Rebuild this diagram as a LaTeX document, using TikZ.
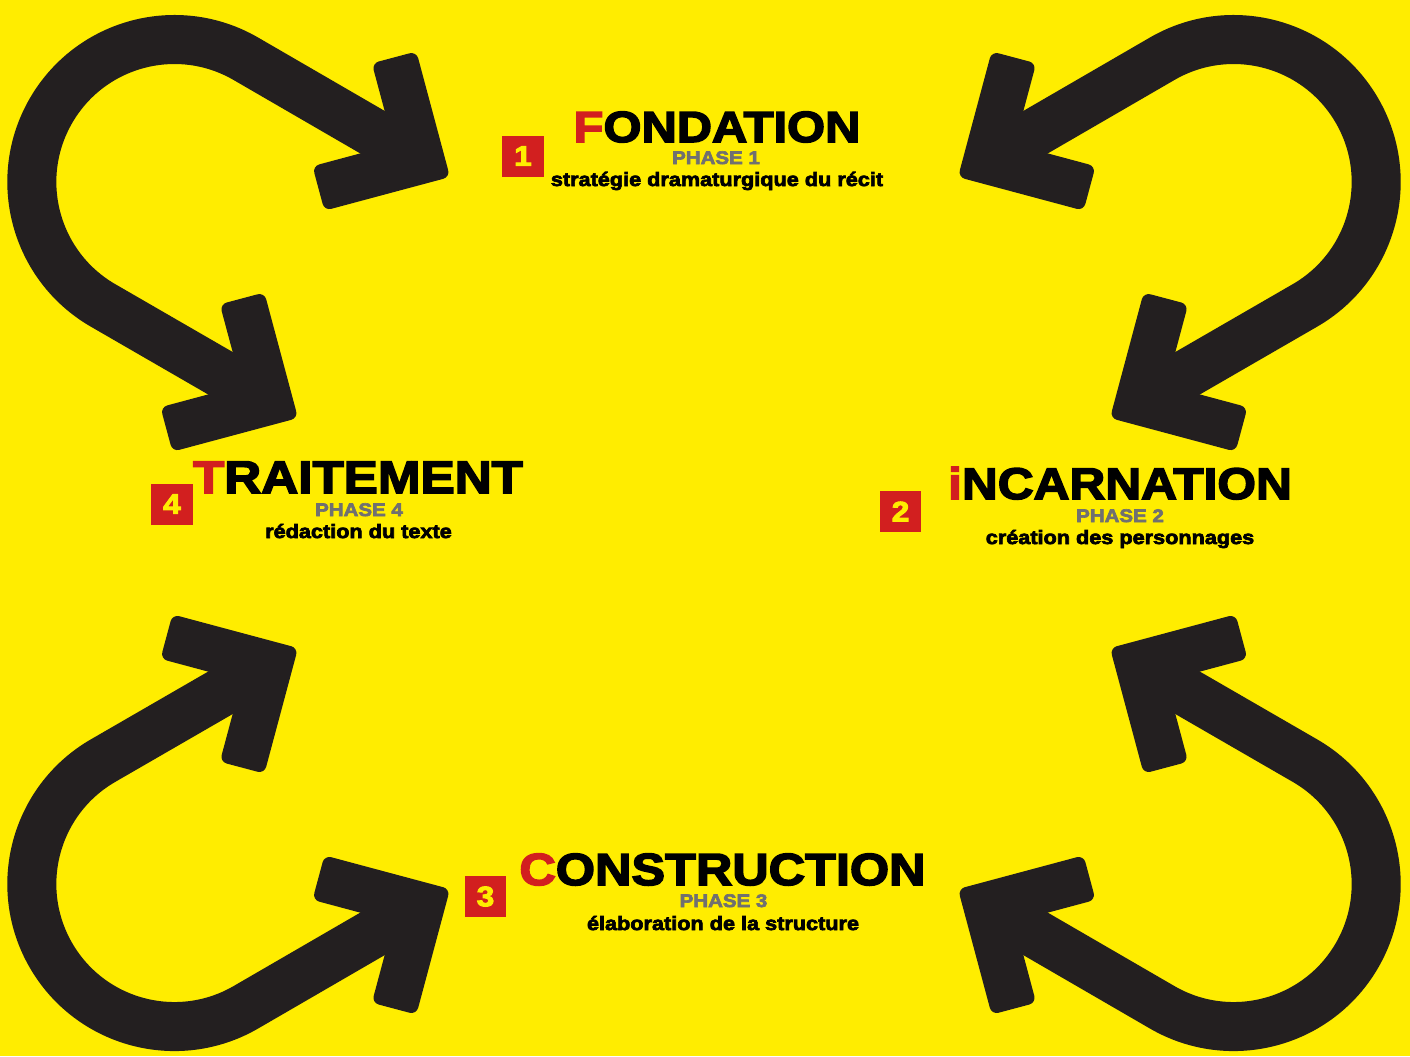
\documentclass[tikz,border=0pt]{standalone}
\usepackage{fontspec}
\newfontfamily\gras{Liberation Sans Bold}[FakeStretch=1.12,FakeBold=3.5]
\definecolor{jaune}{HTML}{FFED00}
\definecolor{rouge}{HTML}{D21F1F}
\definecolor{noir}{HTML}{231F20}
\definecolor{gris}{HTML}{707070}
\begin{document}
\begin{tikzpicture}[x=0.01cm, y=-0.01cm,
  fleche/.style={draw=noir, line width=0.49cm},
  tete/.pic={\fill[noir, rounded corners=2pt] (0,0) -- (-91.9,91.9) -- (-124.5,59.4)
    -- (-65.1,0) -- (-124.5,-59.4) -- (-91.9,-91.9) -- cycle;},
  num/.style={fill=rouge, text=jaune, minimum size=0.41cm, inner sep=0pt,
    font=\gras\fontsize{8}{9}\selectfont},
  titre/.style={anchor=base, inner sep=0pt, font=\gras\fontsize{#1}{#1}\selectfont},
  phase/.style={anchor=base, inner sep=0pt, text=gris, font=\gras\fontsize{5.2}{6}\selectfont},
  desc/.style={anchor=base, inner sep=0pt, font=\gras\fontsize{5.5}{6.5}\selectfont}]
  \useasboundingbox (0,0) rectangle (1410,1056);
  \fill[jaune] (0,0) rectangle (1410,1056);
  % four U-turn arrows, mirrored about the middle
  \foreach \sx/\sy in {1/1,-1/1,1/-1,-1/-1}{
    \begin{scope}[shift={(704,533)}, xscale=\sx, yscale=\sy, shift={(-704,-533)}]
      \draw[fleche] (411,154.5) -- (245.6,58.6)
        arc[start angle=-60, end angle=-240, radius=142.5] -- (259,395.5);
      \pic[transform shape, rotate=-30] at (450,177) {tete};
      \pic[transform shape, rotate=-30] at (298,418) {tete};
    \end{scope}
  }
  % phase 1
  \node[num] (n1) at (523,156) {1};
  \node[titre=12.4] (t1) at (717,142) {\textcolor{rouge}{F}ONDATION};
  \node[phase] (p1) at (716,164) {PHASE 1};
  \node[desc] (d1) at (717,186) {stratégie dramaturgique du récit};
  % phase 2
  \node[num] (n2) at (900.5,511.5) {2};
  \node[titre=12.6] (t2) at (1120,499) {\textcolor{rouge}{i}NCARNATION};
  \node[phase] (p2) at (1120,522) {PHASE 2};
  \node[desc] (d2) at (1120,544) {création des personnages};
  % phase 3
  \node[num] (n3) at (485.5,896.5) {3};
  \node[titre=12.8] (t3) at (722.5,885) {\textcolor{rouge}{C}ONSTRUCTION};
  \node[phase] (p3) at (723.5,907) {PHASE 3};
  \node[desc] (d3) at (723,930) {élaboration de la structure};
  % phase 4
  \node[num] (n4) at (172,504) {4};
  \node[titre=13] (t4) at (358,493) {\textcolor{rouge}{T}RAITEMENT};
  \node[phase] (p4) at (359,516) {PHASE 4};
  \node[desc] (d4) at (358.5,538) {rédaction du texte};
\end{tikzpicture}
\end{document}
